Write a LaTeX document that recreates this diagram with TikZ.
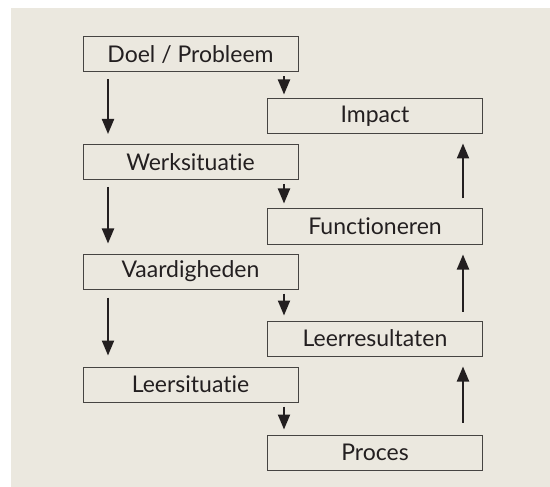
\documentclass[tikz,border=0pt]{standalone}
\usepackage{fontspec}
\setmainfont[Ligatures={NoCommon}]{Lato}
\usetikzlibrary{arrows.meta}
\definecolor{bgc}{RGB}{235,232,223}
\definecolor{ink}{RGB}{35,31,32}
\definecolor{edge}{RGB}{70,68,66}
\tikzset{
  box/.style={draw=edge, line width=1pt, fill=bgc, minimum width=215pt, minimum height=35pt, inner sep=0pt, text=ink, font=\fontsize{23}{26}\selectfont},
  arr/.style={draw=ink, line width=2pt, -{Triangle[length=15pt,width=12pt]}},
}
\begin{document}
\begin{tikzpicture}[x=1pt,y=-1pt]
\useasboundingbox (0,0) rectangle (550,487);
\fill[bgc] (11,8) rectangle (550,487);
\node[box] (dp) at (190.5,54.5) {Doel / Probleem};
\node[box] (ws) at (190.5,162) {Werksituatie};
\node[box] (va) at (190.5,271.5) {Vaardigheden};
\node[box] (ls) at (190.5,384.5) {Leersituatie};
\node[box] (im) at (375,116.5) {Impact};
\node[box] (fu) at (375,226.5) {Functioneren};
\node[box] (lr) at (375,338.5) {Leerresultaten};
\node[box] (pr) at (375,452.5) {Proces};
\coordinate (L) at (108,0);
\coordinate (M) at (284,0);
\coordinate (R) at (463,0);
\draw[arr, shorten <=7pt, shorten >=10pt] (dp.south -| L) -- (ws.north -| L);
\draw[arr, shorten <=7pt, shorten >=10pt] (ws.south -| L) -- (va.north -| L);
\draw[arr, shorten <=8pt, shorten >=11pt] (va.south -| L) -- (ls.north -| L);
\draw[arr, shorten <=4pt, shorten >=4pt] (dp.south -| M) -- (im.north -| M);
\draw[arr, shorten <=4pt, shorten >=5pt] (ws.south -| M) -- (fu.north -| M);
\draw[arr, shorten <=4pt, shorten >=5pt] (va.south -| M) -- (lr.north -| M);
\draw[arr, shorten <=4pt, shorten >=5pt] (ls.south -| M) -- (pr.north -| M);
\draw[arr, shorten <=10pt, shorten >=9pt] (fu.north -| R) -- (im.south -| R);
\draw[arr, shorten <=9pt, shorten >=10pt] (lr.north -| R) -- (fu.south -| R);
\draw[arr, shorten <=12pt, shorten >=10pt] (pr.north -| R) -- (lr.south -| R);
\end{tikzpicture}
\end{document}
